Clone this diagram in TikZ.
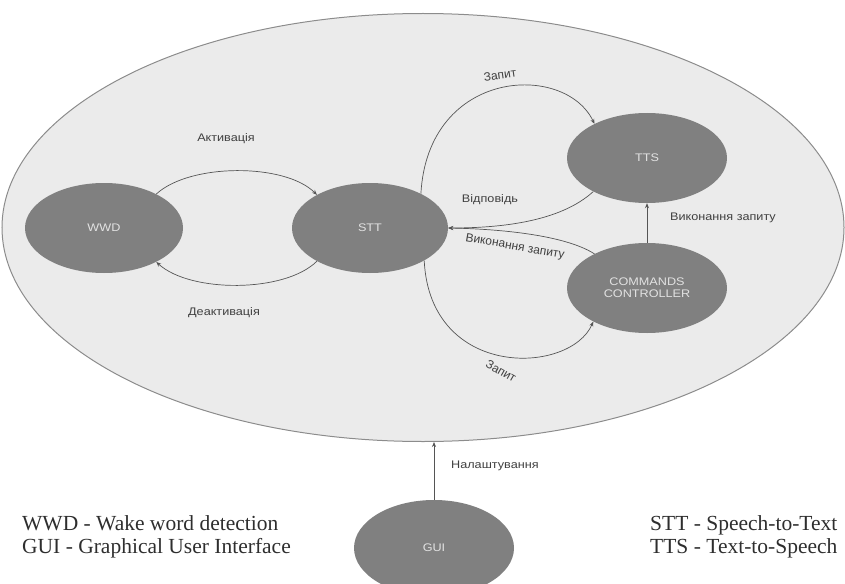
\documentclass[tikz,border=0pt]{standalone}
\usepackage{fontspec}
\setmainfont{Liberation Serif}
\newfontfamily\lblfont[FakeStretch=1.15]{Liberation Sans}
\newfontfamily\rotfont{Liberation Sans}
\usetikzlibrary{arrows.meta,shapes.geometric}
\definecolor{bgfill}{HTML}{EBEBEB}
\definecolor{bgline}{HTML}{8C8C8C}
\definecolor{nodefill}{HTML}{808080}
\definecolor{nodetext}{HTML}{E2E2E2}
\definecolor{edgecol}{HTML}{555555}
\definecolor{lbltext}{HTML}{404040}
\definecolor{legtext}{HTML}{2E2E2E}
\tikzset{
  comp/.style={ellipse, fill=nodefill, draw=none, inner sep=0pt,
    minimum width=158pt, minimum height=90pt, text=nodetext,
    font=\lblfont\fontsize{11}{12}\selectfont, align=center},
  conn/.style={draw=edgecol, line width=0.7pt, -{Stealth[length=5pt,width=4pt]}},
  lbl/.style={text=lbltext, font=\lblfont\fontsize{11}{13}\selectfont, inner sep=1pt},
  rlbl/.style={text=lbltext, font=\rotfont\fontsize{12}{13}\selectfont, inner sep=1pt},
  legend/.style={text=legtext, font=\fontsize{21.5}{23}\selectfont, inner sep=0pt, anchor=base west}
}
\begin{document}
\begin{tikzpicture}[x=1pt,y=-1pt]
\useasboundingbox (0,0) rectangle (845,583);
\node[ellipse, fill=bgfill, draw=bgline, line width=1pt, inner sep=0pt,
      minimum width=842pt, minimum height=428pt] (sys) at (423,227.5) {};

\node[comp] (wwd) at (104,228) {WWD};
\node[comp, minimum width=156pt] (stt) at (370,228) {STT};
\node[comp, minimum width=160pt] (tts) at (647,158) {TTS};
\node[comp, minimum width=160pt] (cc) at (647,288) {COMMANDS\\CONTROLLER};
\node[comp, minimum width=160pt, minimum height=96pt] (gui) at (434,548) {GUI};

% WWD <-> STT
\draw[conn] (wwd.33) .. controls (190,163) and (285,163) .. (stt.148);
\draw[conn] (stt.212) .. controls (285,293) and (190,293) .. (wwd.327);
\node[lbl] (lact) at (226,139) {Активація};
\node[lbl] (ldeact) at (224,313) {Деактивація};

% STT -> TTS request
\draw[conn] (stt.34) .. controls (428,68) and (565,62) .. (tts.147);
\node[rlbl, rotate=8] (lreq1) at (500,75) {Запит};

% TTS -> STT answer
\draw[conn] (tts.212) .. controls (560,222) and (500,228) .. (stt.east);
\node[lbl] (lans) at (490,200) {Відповідь};

% CC -> STT
\draw[conn] (cc.147) .. controls (565,235) and (500,229) .. (stt.east);
\node[rlbl, rotate=-10] (lexec1) at (515,247) {Виконання запиту};

% STT -> CC request
\draw[conn] (stt.329) .. controls (430,380) and (570,375) .. (cc.212);
\node[rlbl, rotate=-30] (lreq2) at (501,371) {Запит};

% CC -> TTS
\draw[conn] (cc.north) -- (tts.south);
\node[lbl] (lexec2) at (723,218) {Виконання запиту};

% GUI -> system
\draw[conn] (gui.north) -- (gui.north |- sys.south);
\node[lbl, anchor=west] (lset) at (450,466) {Налаштування};

% legend
\node[legend] (leg1) at (22,530) {WWD - Wake word detection};
\node[legend] (leg2) at (22,553) {GUI - Graphical User Interface};
\node[legend] (leg3) at (650,530) {STT - Speech-to-Text};
\node[legend] (leg4) at (650,553) {TTS - Text-to-Speech};
\end{tikzpicture}
\end{document}
